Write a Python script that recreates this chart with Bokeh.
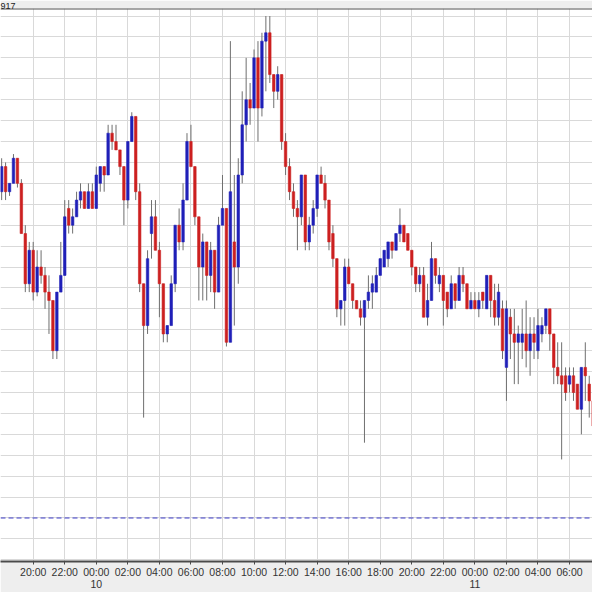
import pandas as pd
from bokeh.plotting import figure
from bokeh.models import (ColumnDataSource, FixedTicker, SingleIntervalTicker,
                          CustomJSTickFormatter, Span, Range1d)
from bokeh.embed import file_html
from bokeh.resources import INLINE

# ---- data (15-minute bars, prices read as pips above PRICE_BASE) ----
PRICE_BASE = 1.0900
PIP = 0.0001
FIRST_BAR = "2024-01-09 18:00"
BAR_FREQ = "15min"

open_pips = [88, 94, 88, 90, 96, 90, 78, 66, 74, 64,
             70, 68, 64, 62, 50, 64, 68, 84, 80, 82,
             86, 88, 84, 88, 84, 90, 94, 92, 102, 100,
             98, 94, 86, 100, 106, 88, 66, 56, 78, 82,
             74, 66, 54, 56, 66, 80, 76, 86, 100, 94,
             82, 70, 76, 68, 74, 64, 80, 84, 52, 76,
             70, 92, 104, 110, 108, 120, 108, 124, 126, 116,
             112, 116, 100, 94, 88, 84, 82, 92, 76, 80,
             84, 92, 90, 86, 78, 72, 60, 62, 70, 66,
             62, 60, 58, 62, 64, 64, 68, 70, 72, 76,
             74, 78, 80, 78, 74, 70, 66, 68, 58, 62,
             72, 66, 68, 64, 60, 66, 62, 68, 66, 60,
             62, 60, 64, 60, 68, 62, 58, 60, 46, 58,
             54, 52, 52, 54, 50, 54, 50, 54, 56, 60,
             54, 46, 44, 44, 42, 44, 42, 36, 46, 42,
             38, 32]
high_pips = [96, 95, 90, 97, 96, 91, 80, 76, 76, 74,
             74, 70, 68, 62, 64, 76, 86, 86, 84, 88,
             90, 88, 90, 90, 94, 94, 94, 104, 104, 104,
             98, 94, 100, 107, 106, 90, 66, 74, 86, 86,
             76, 66, 56, 68, 80, 84, 90, 102, 104, 94,
             82, 78, 76, 76, 74, 82, 92, 84, 124, 92,
             96, 112, 120, 114, 122, 124, 126, 130, 130, 116,
             118, 116, 102, 96, 90, 86, 92, 92, 82, 86,
             92, 94, 92, 86, 80, 72, 62, 72, 72, 66,
             62, 62, 62, 68, 68, 70, 72, 74, 76, 76,
             78, 84, 80, 78, 74, 70, 70, 70, 66, 76,
             72, 70, 68, 64, 68, 66, 70, 70, 66, 64,
             64, 64, 64, 68, 68, 66, 66, 62, 62, 60,
             60, 56, 60, 62, 58, 58, 60, 58, 60, 60,
             54, 52, 52, 46, 46, 46, 42, 46, 52, 44,
             38, 52]
low_pips = [86, 86, 87, 90, 89, 78, 64, 64, 62, 63,
            66, 60, 54, 48, 48, 64, 68, 78, 78, 82,
            84, 84, 84, 84, 84, 88, 88, 92, 98, 98,
            92, 80, 84, 100, 86, 64, 34, 54, 72, 74,
            58, 52, 52, 56, 64, 74, 74, 86, 94, 80,
            62, 62, 62, 64, 60, 64, 80, 51, 52, 56,
            66, 90, 100, 104, 108, 100, 106, 112, 114, 108,
            110, 98, 92, 86, 82, 74, 80, 74, 74, 78,
            82, 90, 84, 74, 70, 58, 56, 56, 66, 60,
            60, 56, 28, 60, 60, 64, 68, 70, 70, 72,
            74, 76, 76, 74, 68, 64, 64, 58, 56, 62,
            66, 64, 56, 58, 60, 60, 62, 64, 60, 60,
            60, 58, 60, 60, 58, 56, 56, 48, 38, 48,
            42, 42, 48, 46, 44, 48, 48, 52, 54, 50,
            42, 42, 24, 38, 40, 38, 36, 30, 38, 34,
            26, 30]
close_pips = [94, 88, 90, 96, 90, 78, 66, 74, 64, 70,
              68, 64, 62, 50, 64, 68, 82, 80, 82, 86,
              88, 84, 88, 84, 92, 94, 92, 102, 100, 98,
              94, 86, 100, 106, 88, 66, 56, 72, 82, 74,
              66, 54, 56, 66, 80, 76, 86, 100, 94, 82,
              70, 76, 68, 74, 64, 80, 84, 52, 88, 70,
              92, 104, 110, 108, 120, 108, 124, 126, 116, 112,
              116, 100, 94, 88, 84, 82, 92, 76, 80, 84,
              92, 90, 86, 76, 72, 60, 62, 70, 66, 62,
              60, 58, 62, 64, 66, 68, 72, 74, 76, 74,
              78, 80, 76, 74, 70, 66, 68, 58, 62, 72,
              68, 68, 62, 60, 66, 62, 68, 66, 60, 62,
              60, 62, 62, 68, 62, 58, 64, 50, 60, 54,
              52, 54, 54, 50, 54, 52, 56, 56, 60, 54,
              46, 44, 42, 40, 44, 40, 36, 46, 44, 38,
              32, 38]

REFERENCE_LEVEL = 1.0910          # dashed horizontal line
TICK_FIRST = "2024-01-09 20:00"
TICK_LAST = "2024-01-11 06:00"
TICK_STEP = "2h"
VIEW_X = ("2024-01-09 17:55:38", "2024-01-11 07:27:22")
VIEW_Y = (1.08996, 1.10318)
HEADER_TEXT = "917"

# ---- build ----
times = pd.date_range(FIRST_BAR, periods=len(open_pips), freq=BAR_FREQ)
o = [PRICE_BASE + v * PIP for v in open_pips]
h = [PRICE_BASE + v * PIP for v in high_pips]
l = [PRICE_BASE + v * PIP for v in low_pips]
c = [PRICE_BASE + v * PIP for v in close_pips]
src = ColumnDataSource(dict(
    t=times, open=o, high=h, low=l, close=c,
    top=[max(a, b) for a, b in zip(o, c)],
    bottom=[min(a, b) for a, b in zip(o, c)],
    color=["#2020b8" if cc >= oo else "#cc2020" for oo, cc in zip(o, c)],
))

p = figure(width=592, height=592, x_axis_type="datetime",
           output_backend="svg", toolbar_location=None,
           x_range=Range1d(pd.Timestamp(VIEW_X[0]), pd.Timestamp(VIEW_X[1])),
           y_range=Range1d(*VIEW_Y),
           min_border_left=0, min_border_right=0, min_border_top=0,
           min_border_bottom=0)
p.title.text = HEADER_TEXT
p.title.text_font = "Liberation Sans"
p.title.text_font_size = "9px"
p.title.text_font_style = "normal"
p.title.text_color = "#222222"
p.title.standoff = 0
p.title.offset = 0
p.background_fill_color = "white"
p.border_fill_color = "#eeeeee"
p.outline_line_color = None
p.yaxis.visible = False

tick_times = pd.date_range(TICK_FIRST, TICK_LAST, freq=TICK_STEP)
p.xaxis.ticker = FixedTicker(ticks=[t.value / 1e6 for t in tick_times])
p.xaxis.formatter = CustomJSTickFormatter(code="""
    const d = new Date(tick);
    const hh = String(d.getUTCHours()).padStart(2, "0");
    const mm = String(d.getUTCMinutes()).padStart(2, "0");
    let s = hh + ":" + mm;
    if (d.getUTCHours() === 0 && d.getUTCMinutes() === 0) { s += "\\n" + d.getUTCDate(); }
    return s;
""")
p.xaxis.axis_line_color = "#4a4a4a"
p.xaxis.axis_line_width = 2
p.xaxis.major_tick_line_color = "#4a4a4a"
p.xaxis.major_tick_out = 3
p.xaxis.major_tick_in = 0
p.xaxis.minor_tick_line_color = None
p.xaxis.major_label_standoff = 1
p.xaxis.major_label_text_font = "Liberation Sans"
p.xaxis.major_label_text_font_size = "10.5px"
p.xaxis.major_label_text_color = "#333333"
p.xaxis.major_label_text_line_height = 1.0

p.xgrid.grid_line_color = "#d9d9d9"
p.ygrid.grid_line_color = "#d9d9d9"
p.ygrid.ticker = SingleIntervalTicker(interval=5 * PIP)

p.segment(x0="t", y0="high", x1="t", y1="low", source=src,
          line_color="#6f6f6f", line_width=1)
p.vbar(x="t", width=9.5 * 60 * 1000, top="top", bottom="bottom", source=src,
       fill_color="color", line_color="color", line_width=0.6)

p.add_layout(Span(location=REFERENCE_LEVEL, dimension="width",
                  line_color="#3c3cc8", line_dash="5 3", line_width=1))
p.add_layout(Span(location=VIEW_Y[1], dimension="width",
                  line_color="#505050", line_width=2))

open("out.html", "w").write(file_html(p, INLINE))
